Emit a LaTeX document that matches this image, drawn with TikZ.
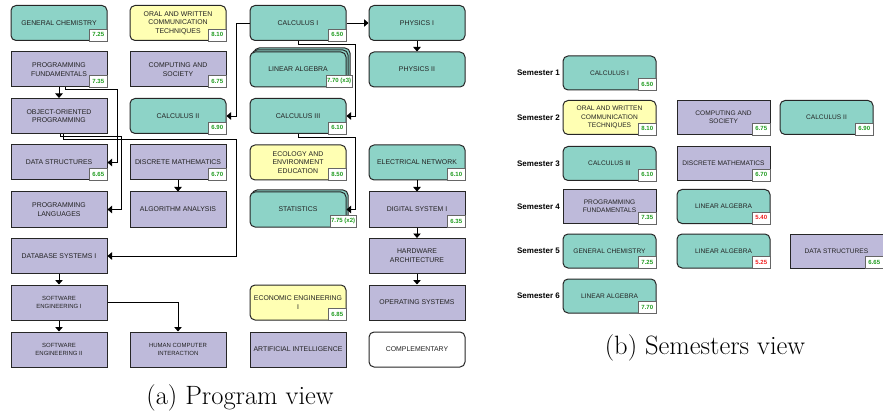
\documentclass[tikz,border=0pt]{standalone}
\usepackage{fontspec}
\newfontfamily\coursefont{Liberation Sans}
\usetikzlibrary{arrows.meta}

\definecolor{basicteal}{HTML}{8DD3C7}
\definecolor{proflilac}{HTML}{BEBADA}
\definecolor{genyellow}{HTML}{FFFFB3}
\definecolor{passgreen}{RGB}{30,155,30}
\definecolor{failred}{RGB}{240,30,30}
\definecolor{labelgray}{RGB}{35,35,35}

\tikzset{
	course/.style={draw=black!85, line width=1pt, minimum width=96pt, minimum height=35pt, inner sep=1pt, align=center, text=labelgray, font={\coursefont\fontsize{6.9}{8.7}\selectfont}},
	basic/.style={course, fill=basicteal, rounded corners=5pt},
	prof/.style={course, fill=proflilac},
	gen/.style={course, fill=genyellow, rounded corners=5pt},
	free/.style={course, fill=white, rounded corners=5pt},
	smalltext/.style={font={\coursefont\fontsize{6}{8}\selectfont}},
	semsize/.style={minimum width=93pt, minimum height=34pt, font={\coursefont\fontsize{6.6}{8.3}\selectfont}},
	grade/.style={draw=black!60, line width=0.4pt, fill=white, anchor=south east, inner sep=1.2pt, minimum height=12pt, minimum width=18pt, text=passgreen, font={\coursefont\bfseries\fontsize{6}{7}\selectfont}},
	fail/.style={text=failred},
	semlabel/.style={anchor=east, inner sep=1pt, font={\coursefont\bfseries\fontsize{8}{9}\selectfont}},
	caption/.style={font=\fontsize{26.5}{30}\selectfont},
	link/.style={-{Triangle[width=7.5pt,length=4.5pt]}, line width=0.8pt}
}

\begin{document}
\begin{tikzpicture}[x=1pt,y=-1pt]
	\useasboundingbox (0,0) rectangle (883,414);

	\node[basic] (gchem) at (59,23) {GENERAL CHEMISTRY};
	\node[gen] (oral) at (178,23) {ORAL AND WRITTEN\\COMMUNICATION\\TECHNIQUES};
	\node[basic] (calcI) at (298,23) {CALCULUS I};
	\node[basic] (physI) at (417,23) {PHYSICS I};

	\node[prof] (progf) at (59,69.5) {PROGRAMMING\\FUNDAMENTALS};
	\node[prof] (compsoc) at (178,69.5) {COMPUTING AND\\SOCIETY};
	\node[basic] (linalg-c) at (302,65.5) {};
	\node[basic] (linalg-b) at (300,67.5) {};
	\node[basic] (linalg) at (298,69.5) {LINEAR ALGEBRA};
	\node[basic] (physII) at (417,69.5) {PHYSICS II};

	\node[prof] (oop) at (59,116) {OBJECT-ORIENTED\\PROGRAMMING};
	\node[basic] (calcII) at (178,116) {CALCULUS II};
	\node[basic] (calcIII) at (298,116) {CALCULUS III};

	\node[prof] (datastr) at (59,162.5) {DATA STRUCTURES};
	\node[prof] (discm) at (178,162.5) {DISCRETE MATHEMATICS};
	\node[gen] (ecol) at (298,162.5) {ECOLOGY AND\\ENVIRONMENT\\EDUCATION};
	\node[basic] (elecnet) at (417,162.5) {ELECTRICAL NETWORK};

	\node[prof] (proglang) at (59,209.5) {PROGRAMMING\\LANGUAGES};
	\node[prof] (algan) at (178,209.5) {ALGORITHM ANALYSIS};
	\node[basic] (stats-b) at (300,207.5) {};
	\node[basic] (stats) at (298,209.5) {STATISTICS};
	\node[prof] (digsys) at (417,209.5) {DIGITAL SYSTEM I};

	\node[prof] (dbsys) at (59,256) {DATABASE SYSTEMS I};
	\node[prof] (hwarch) at (417,256) {HARDWARE\\ARCHITECTURE};

	\node[prof, smalltext] (softI) at (59,302.5) {SOFTWARE\\ENGINEERING I};
	\node[gen] (econ) at (298,302.5) {ECONOMIC ENGINEERING\\I};
	\node[prof] (opsys) at (417,302.5) {OPERATING SYSTEMS};

	\node[prof, smalltext] (softII) at (59,349.5) {SOFTWARE\\ENGINEERING II};
	\node[prof, smalltext] (hci) at (178,349.5) {HUMAN COMPUTER\\INTERACTION};
	\node[prof] (ai) at (298,349.5) {ARTIFICIAL INTELLIGENCE};
	\node[free] (compl) at (417,349.5) {COMPLEMENTARY};

	\node[grade] (gchem-g) at (gchem.south east) {7.25};
	\node[grade] (oral-g) at (oral.south east) {8.10};
	\node[grade] (calcI-g) at (calcI.south east) {6.50};
	\node[grade] (progf-g) at (progf.south east) {7.35};
	\node[grade] (compsoc-g) at (compsoc.south east) {6.75};
	\node[grade] (linalg-g) at ([xshift=6pt]linalg.south east) {7.70 (x3)};
	\node[grade] (calcII-g) at (calcII.south east) {6.90};
	\node[grade] (calcIII-g) at (calcIII.south east) {6.10};
	\node[grade] (datastr-g) at (datastr.south east) {6.65};
	\node[grade] (discm-g) at (discm.south east) {6.70};
	\node[grade] (ecol-g) at (ecol.south east) {8.50};
	\node[grade] (elecnet-g) at (elecnet.south east) {6.10};
	\node[grade] (stats-g) at ([xshift=10pt]stats.south east) {7.75 (x2)};
	\node[grade] (digsys-g) at (digsys.south east) {6.35};
	\node[grade] (econ-g) at (econ.south east) {6.85};

	\draw[link] (progf.south) -- (oop.north);
	\draw[link] ([xshift=6pt]progf.south) -- ++(0,2) -| ([xshift=10pt]datastr.east) -- (datastr.east);
	\draw[link] ([xshift=1pt]oop.south) -- ++(0,2) -| ([xshift=14pt]proglang.east) -- (proglang.east);
	\draw[link] ([xshift=4pt]oop.south) -- ++(0,5) -| ([xshift=129pt]dbsys.east) -- (dbsys.east);
	\draw[link] (calcI.west) -- ++(-13,0) |- (calcII.east);
	\draw[link] (calcI.east) -- (physI.west);
	\draw[link] (physI.south) -- (physII.north);
	\draw[link] (calcI.south) -- ++(0,3) -| ([xshift=9pt]calcIII.east) -- (calcIII.east);
	\draw[link] (calcIII.south) -- ++(0,3) -| ([xshift=9pt]stats.east) -- (stats.east);
	\draw[link] (discm.south) -- (algan.north);
	\draw[link] (elecnet.south) -- (digsys.north);
	\draw[link] (digsys.south) -- (hwarch.north);
	\draw[link] (hwarch.south) -- (opsys.north);
	\draw[link] (dbsys.south) -- (softI.north);
	\draw[link] (softI.south) -- (softII.north);
	\draw[link] (softI.east) -| (hci.north);

	\node[caption] (capa) at (240,398) {(a) Program view};

	\node[semlabel] (sem1) at (561,73) {Semester 1};
	\node[semlabel] (sem2) at (561,117.5) {Semester 2};
	\node[semlabel] (sem3) at (561,163.5) {Semester 3};
	\node[semlabel] (sem4) at (561,206.5) {Semester 4};
	\node[semlabel] (sem5) at (561,251) {Semester 5};
	\node[semlabel] (sem6) at (561,296) {Semester 6};

	\node[basic, semsize] (s1calcI) at (609.5,73) {CALCULUS I};
	\node[gen, semsize] (s2oral) at (609.5,117.5) {ORAL AND WRITTEN\\COMMUNICATION\\TECHNIQUES};
	\node[prof, semsize] (s2compsoc) at (723.5,117.5) {COMPUTING AND\\SOCIETY};
	\node[basic, semsize] (s2calcII) at (826.5,117.5) {CALCULUS II};
	\node[basic, semsize] (s3calcIII) at (609.5,163.5) {CALCULUS III};
	\node[prof, semsize] (s3discm) at (723.5,163.5) {DISCRETE MATHEMATICS};
	\node[prof, semsize] (s4progf) at (609.5,206.5) {PROGRAMMING\\FUNDAMENTALS};
	\node[basic, semsize] (s4linalg) at (723.5,206.5) {LINEAR ALGEBRA};
	\node[basic, semsize] (s5gchem) at (609.5,251) {GENERAL CHEMISTRY};
	\node[basic, semsize] (s5linalg) at (723.5,251) {LINEAR ALGEBRA};
	\node[prof, semsize] (s5datastr) at (836.5,251) {DATA STRUCTURES};
	\node[basic, semsize] (s6linalg) at (609.5,296) {LINEAR ALGEBRA};

	\node[grade] (s1calcI-g) at (s1calcI.south east) {6.50};
	\node[grade] (s2oral-g) at (s2oral.south east) {8.10};
	\node[grade] (s2compsoc-g) at (s2compsoc.south east) {6.75};
	\node[grade] (s2calcII-g) at (s2calcII.south east) {6.90};
	\node[grade] (s3calcIII-g) at (s3calcIII.south east) {6.10};
	\node[grade] (s3discm-g) at (s3discm.south east) {6.70};
	\node[grade] (s4progf-g) at (s4progf.south east) {7.35};
	\node[grade, fail] (s4linalg-g) at (s4linalg.south east) {5.40};
	\node[grade] (s5gchem-g) at (s5gchem.south east) {7.25};
	\node[grade, fail] (s5linalg-g) at (s5linalg.south east) {5.25};
	\node[grade] (s5datastr-g) at (s5datastr.south east) {6.65};
	\node[grade] (s6linalg-g) at (s6linalg.south east) {7.70};

	\node[caption] (capb) at (705,348) {(b) Semesters view};
\end{tikzpicture}
\end{document}
